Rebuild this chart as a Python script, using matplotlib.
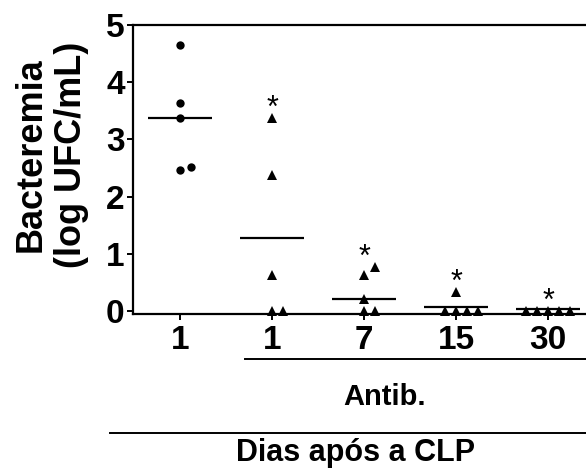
import numpy as np
import matplotlib.pyplot as plt
from matplotlib.lines import Line2D

plt.rcParams['font.family'] = ['Liberation Sans', 'DejaVu Sans']
plt.rcParams['font.weight'] = 'bold'

# log UFC/mL per animal, one list per group
grupos = ["1", "1", "7", "15", "30"]
sham_d1 = [4.65, 3.64, 3.38, 2.46, 2.51]
antib_d1 = [3.38, 2.37, 0.63, 0.0, 0.0]
antib_d7 = [0.77, 0.63, 0.21, 0.0, 0.0]
antib_d15 = [0.33, 0.0, 0.0, 0.0, 0.0]
antib_d30 = [0.0, 0.0, 0.0, 0.0, 0.0]
linha_media = [3.37, 1.28, 0.21, 0.08, 0.03]
signif = [False, True, True, True, True]

dados = [sham_d1, antib_d1, antib_d7, antib_d15, antib_d30]
marcadores = ["o", "^", "^", "^", "^"]


def swarm(vals, passo=0.12, dy=0.16):
    # coloca cada ponto no primeiro slot livre: 0, +1, -1, +2, -2 ...
    ordem = np.argsort(vals, kind="stable")
    pos = np.zeros(len(vals))
    usados = []
    for i in ordem:
        k = 0
        while True:
            slot = (k + 1) // 2 * (1 if k % 2 else -1)
            if not any(s == slot and abs(v - vals[i]) < dy for s, v in usados):
                break
            k += 1
        usados.append((slot, vals[i]))
        pos[i] = slot * passo
    return pos


fig = plt.figure(figsize=(5.86, 4.68), dpi=100)
ax = fig.add_axes([0.227, 0.329, 0.773, 0.618])

for i, (vals, m) in enumerate(zip(dados, marcadores)):
    x = i + swarm(vals)
    ax.plot(x, vals, m, color="black", ms=6.5 if m == "^" else 6,
            mew=0, clip_on=False, zorder=3)
    ax.plot([i - 0.35, i + 0.35], [linha_media[i]] * 2, color="black",
            lw=1.6, solid_capstyle="butt", zorder=2)
    if signif[i]:
        ax.text(i, max(vals) + 0.02, "*", ha="center", va="baseline",
                fontsize=22, fontweight="normal")

ax.set_xlim(-0.511, 4.413)
ax.set_ylim(-0.05, 5)
ax.set_xticks(range(len(grupos)))
ax.set_xticklabels(grupos)
ax.set_yticks(range(6))
ax.tick_params(labelsize=24, width=1.4, length=4, pad=2)
ax.tick_params(axis="x", pad=4)
ax.spines["right"].set_visible(False)
for s in ["left", "bottom", "top"]:
    ax.spines[s].set_linewidth(1.6)

fig.text(0.087, 0.669, "Bacteremia\n(log UFC/mL)", rotation=90,
         ha="center", va="center", fontsize=26, linespacing=1.2)

fig.add_artist(Line2D([0.418, 1.0], [0.233, 0.233], color="black", lw=1.4))
fig.add_artist(Line2D([0.188, 1.0], [0.075, 0.075], color="black", lw=1.4))
fig.text(0.657, 0.152, "Antib.", ha="center", va="center", fontsize=21)
fig.text(0.6075, 0.032, "Dias após a CLP", ha="center", va="center",
         fontsize=22)

fig.savefig("out.png", dpi=100)
